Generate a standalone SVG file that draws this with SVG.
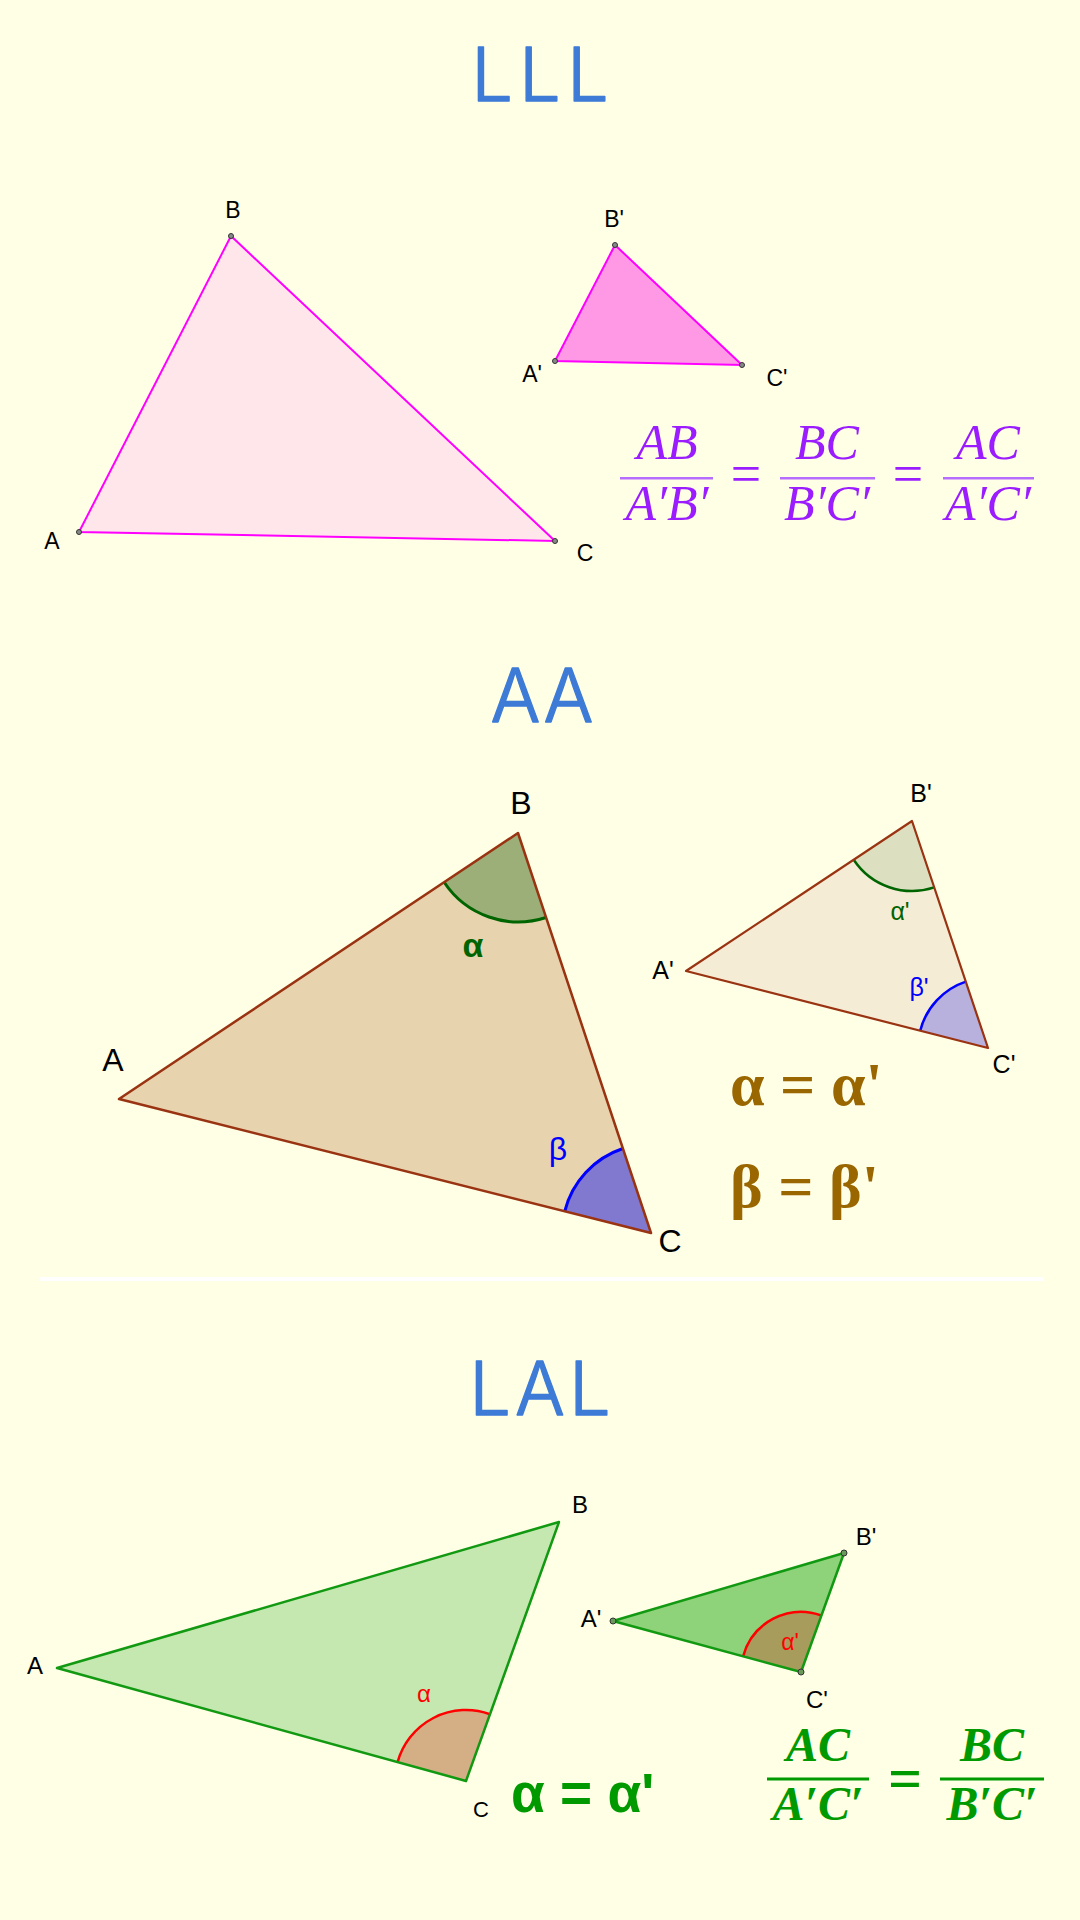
<svg xmlns="http://www.w3.org/2000/svg" width="1080" height="1920" viewBox="0 0 1080 1920">
<style>
.title{font-family:Inter,"Open Sans","Liberation Sans",sans-serif;font-weight:300;font-size:74px;fill:#3d7bd7;stroke:#3d7bd7;stroke-width:1.3;stroke-linejoin:round;text-anchor:middle}
.lbl{font-family:"Liberation Sans",Arial,sans-serif;fill:#000;text-anchor:middle}
.mathp{font-family:"Liberation Serif","DejaVu Serif",serif;font-style:italic;font-size:50px;fill:#9a1cff;text-anchor:middle}
.mathg{font-family:"Liberation Serif","DejaVu Serif",serif;font-style:italic;font-weight:bold;font-size:48px;fill:#009900;text-anchor:middle}
.eqp{font-family:"Liberation Serif","DejaVu Serif",serif;font-size:54px;fill:#9a1cff;text-anchor:middle}
.eqg{font-family:"Liberation Serif","DejaVu Serif",serif;font-size:60px;font-weight:bold;fill:#009900;text-anchor:middle}
.dot{fill:#888;stroke:#333;stroke-width:1}
</style>
<rect x="0" y="0" width="1080" height="1920" fill="#ffffe5"/>

<!-- LLL -->
<g id="lll">
  <text class="title" x="543" y="101" letter-spacing="6">LLL</text>
  <g id="lll-big">
    <polygon points="79,532 231,236 555,541" fill="#ffe6ea" stroke="#ff00ff" stroke-width="2"/>
    <circle class="dot" cx="79" cy="532" r="2.5"/>
    <circle class="dot" cx="231" cy="236" r="2.5"/>
    <circle class="dot" cx="555" cy="541" r="2.5"/>
    <text class="lbl" font-size="23" x="52" y="549">A</text>
    <text class="lbl" font-size="23" x="233" y="218">B</text>
    <text class="lbl" font-size="23" x="585" y="561">C</text>
  </g>
  <g id="lll-small">
    <polygon points="555,361 615,245 742,365" fill="#ff99e6" stroke="#ff00ff" stroke-width="2"/>
    <circle class="dot" cx="555" cy="361" r="2.5"/>
    <circle class="dot" cx="615" cy="245" r="2.5"/>
    <circle class="dot" cx="742" cy="365" r="2.5"/>
    <text class="lbl" font-size="23" x="532" y="382">A'</text>
    <text class="lbl" font-size="23" x="614" y="227">B'</text>
    <text class="lbl" font-size="23" x="777" y="386">C'</text>
  </g>
  <g id="lll-ratio">
    <text class="mathp" x="667" y="459">AB</text>
    <rect x="620" y="477" width="93" height="2.5" fill="#b66cff"/>
    <text class="mathp" x="667" y="520">A′B′</text>
    <text class="eqp" x="746" y="492">=</text>
    <text class="mathp" x="827" y="459">BC</text>
    <rect x="780" y="477" width="95" height="2.5" fill="#b66cff"/>
    <text class="mathp" x="827" y="520">B′C′</text>
    <text class="eqp" x="908" y="492">=</text>
    <text class="mathp" x="988" y="459">AC</text>
    <rect x="943" y="477" width="91" height="2.5" fill="#b66cff"/>
    <text class="mathp" x="988" y="520">A′C′</text>
  </g>
</g>

<!-- AA -->
<g id="aa">
  <text class="title" x="543" y="722" letter-spacing="2">AA</text>
  <g id="aa-big">
    <polygon points="119,1099 518,833 651,1233" fill="#e8d3af"/>
    <path d="M518,833 L444,882 A89,89 0 0 0 546,917.5 Z" fill="#9caf78"/>
    <path d="M444,882 A89,89 0 0 0 546,917.5" fill="none" stroke="#006400" stroke-width="3"/>
    <path d="M651,1233 L564.7,1211.3 A89,89 0 0 1 622.9,1148.5 Z" fill="#8178d0"/>
    <path d="M564.7,1211.3 A89,89 0 0 1 622.9,1148.5" fill="none" stroke="#0000ff" stroke-width="3"/>
    <polygon points="119,1099 518,833 651,1233" fill="none" stroke="#993311" stroke-width="2.5" stroke-linejoin="round"/>
    <text class="lbl" font-size="32" x="113" y="1071">A</text>
    <text class="lbl" font-size="32" x="521" y="814">B</text>
    <text class="lbl" font-size="32" x="670" y="1252">C</text>
    <text class="lbl" font-size="34" font-weight="bold" x="473" y="957" style="fill:#006400">α</text>
    <text class="lbl" font-size="32" x="558" y="1160" style="fill:#0000ff">β</text>
  </g>
  <g id="aa-small">
    <polygon points="686,971 912,821 988,1048" fill="#f5ecd5"/>
    <path d="M912,821 L853.7,859.7 A70,70 0 0 0 934.2,887.4 Z" fill="#dde0c0"/>
    <path d="M853.7,859.7 A70,70 0 0 0 934.2,887.4" fill="none" stroke="#006400" stroke-width="2.5"/>
    <path d="M988,1048 L920.2,1030.7 A70,70 0 0 1 965.8,981.6 Z" fill="#b8b0dd"/>
    <path d="M920.2,1030.7 A70,70 0 0 1 965.8,981.6" fill="none" stroke="#0000ff" stroke-width="2.5"/>
    <polygon points="686,971 912,821 988,1048" fill="none" stroke="#993311" stroke-width="2.2" stroke-linejoin="round"/>
    <text class="lbl" font-size="25" x="663" y="979">A'</text>
    <text class="lbl" font-size="25" x="921" y="802">B'</text>
    <text class="lbl" font-size="25" x="1004" y="1073">C'</text>
    <text class="lbl" font-size="25" x="900" y="920" style="fill:#006400">α'</text>
    <text class="lbl" font-size="25" x="919" y="996" style="fill:#0000ff">β'</text>
  </g>
  <g id="aa-eq" font-family="'Liberation Serif','DejaVu Serif',serif" font-weight="bold" font-size="62" fill="#996600">
    <text x="730" y="1105">α = α'</text>
    <text x="730" y="1207">β = β'</text>
  </g>
</g>

<rect id="separator" x="40" y="1277" width="1004" height="4" fill="#ffffff"/>

<!-- LAL -->
<g id="lal">
  <text class="title" x="542" y="1415" letter-spacing="4">LAL</text>
  <g id="lal-big">
    <polygon points="57,1668 559,1522 466,1781" fill="#c5e8b0"/>
    <path d="M466,1781 L397.6,1762.1 A71,71 0 0 1 490,1714.2 Z" fill="#d4ae84"/>
    <path d="M397.6,1762.1 A71,71 0 0 1 490,1714.2" fill="none" stroke="#ff0000" stroke-width="2.5"/>
    <polygon points="57,1668 559,1522 466,1781" fill="none" stroke="#129912" stroke-width="2.5" stroke-linejoin="round"/>
    <text class="lbl" font-size="24" x="35" y="1674">A</text>
    <text class="lbl" font-size="24" x="580" y="1513">B</text>
    <text class="lbl" font-size="22" x="481" y="1817">C</text>
    <text class="lbl" font-size="24" x="424" y="1702" style="fill:#ff0000">α</text>
  </g>
  <g id="lal-small">
    <polygon points="613,1621 844,1553 801,1672" fill="#8ed27a"/>
    <path d="M801,1672 L743.1,1656.3 A60,60 0 0 1 821.4,1615.5 Z" fill="#a89c5c"/>
    <path d="M743.1,1656.3 A60,60 0 0 1 821.4,1615.5" fill="none" stroke="#ff0000" stroke-width="2.5"/>
    <polygon points="613,1621 844,1553 801,1672" fill="none" stroke="#129912" stroke-width="2.5" stroke-linejoin="round"/>
    <circle class="dot" cx="613" cy="1621" r="3" style="fill:#6a9a5a"/>
    <circle class="dot" cx="844" cy="1553" r="3" style="fill:#6a9a5a"/>
    <circle class="dot" cx="801" cy="1672" r="3" style="fill:#6a9a5a"/>
    <text class="lbl" font-size="24" x="591" y="1627">A'</text>
    <text class="lbl" font-size="24" x="866" y="1545">B'</text>
    <text class="lbl" font-size="24" x="817" y="1708">C'</text>
    <text class="lbl" font-size="23" x="790" y="1650" style="fill:#ff0000">α'</text>
  </g>
  <text id="lal-eq" x="511" y="1812" font-family="'Liberation Sans',Arial,sans-serif" font-weight="bold" font-size="55" fill="#009900">α = α'</text>
  <g id="lal-ratio">
    <text class="mathg" x="818" y="1761">AC</text>
    <rect x="767" y="1777.5" width="102" height="3" fill="#009900"/>
    <text class="mathg" x="818" y="1820">A′C′</text>
    <text class="eqg" x="905" y="1798">=</text>
    <text class="mathg" x="992" y="1761">BC</text>
    <rect x="940" y="1777.5" width="104" height="3" fill="#009900"/>
    <text class="mathg" x="992" y="1820">B′C′</text>
  </g>
</g>
</svg>
